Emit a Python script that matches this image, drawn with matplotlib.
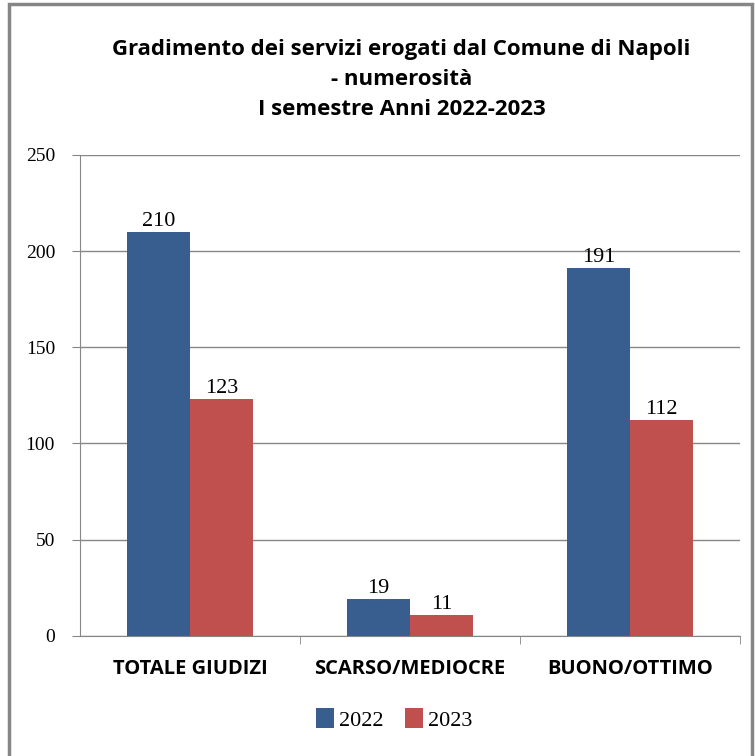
import matplotlib.pyplot as plt
import numpy as np
from matplotlib.patches import Rectangle

categorie = ['TOTALE GIUDIZI', 'SCARSO/MEDIOCRE', 'BUONO/OTTIMO']
valori_2022 = [210, 19, 191]
valori_2023 = [123, 11, 112]
anni = ['2022', '2023']

col_2022 = '#375E8F'
col_2023 = '#C0504D'
sans = ['Open Sans', 'DejaVu Sans']
serif = ['Liberation Serif', 'DejaVu Serif']

fig = plt.figure(figsize=(7.55, 7.56), dpi=100)
ax = fig.add_axes([0.106, 0.159, 0.874, 0.636])

x = np.arange(len(categorie))
w = 0.286
b1 = ax.bar(x - w / 2, valori_2022, w, color=col_2022, label=anni[0])
b2 = ax.bar(x + w / 2, valori_2023, w, color=col_2023, label=anni[1])

for barre in (b1, b2):
    for r in barre:
        ax.text(r.get_x() + r.get_width() / 2, r.get_height() + 0.5, str(int(r.get_height())),
                ha='center', va='bottom', fontsize=16, family=serif)

ax.set_xlim(-0.5, 2.5)
ax.set_ylim(0, 250)
ax.set_yticks(range(0, 251, 50))
ax.set_yticklabels([str(v) for v in range(0, 251, 50)], family=serif, fontsize=14)
ax.yaxis.grid(True, color='#868686', linewidth=1)
ax.set_axisbelow(True)
ax.set_xticks(x)
ax.set_xticklabels(categorie, family=sans, fontweight='bold', fontsize=14.5)
ax.set_xticks([0.5, 1.5, 2.5], minor=True)
ax.tick_params(axis='x', which='major', length=0, pad=17)
ax.tick_params(axis='x', which='minor', length=6, color='#868686')
ax.tick_params(axis='y', length=6, color='#868686', pad=12)
for s in ['top', 'right']:
    ax.spines[s].set_visible(False)
for s in ['left', 'bottom']:
    ax.spines[s].set_color('#868686')

fig.text(0.532, 0.948, 'Gradimento dei servizi erogati dal Comune di Napoli\n- numerosità\nI semestre Anni 2022-2023',
         ha='center', va='top', fontsize=16, fontweight='bold', family=sans, linespacing=1.55)

leg = fig.legend(handles=[b1, b2], loc='center', bbox_to_anchor=(0.522, 0.048), ncol=2, frameon=False,
                 prop={'family': serif, 'size': 16}, handlelength=0.8, handleheight=1.0,
                 handletextpad=0.2, columnspacing=1.0)

fig.patches.append(Rectangle((0.012, -0.01), 0.984, 1.005, transform=fig.transFigure,
                             fill=False, edgecolor='#868686', linewidth=2.5))

fig.savefig('out.png', dpi=100)
